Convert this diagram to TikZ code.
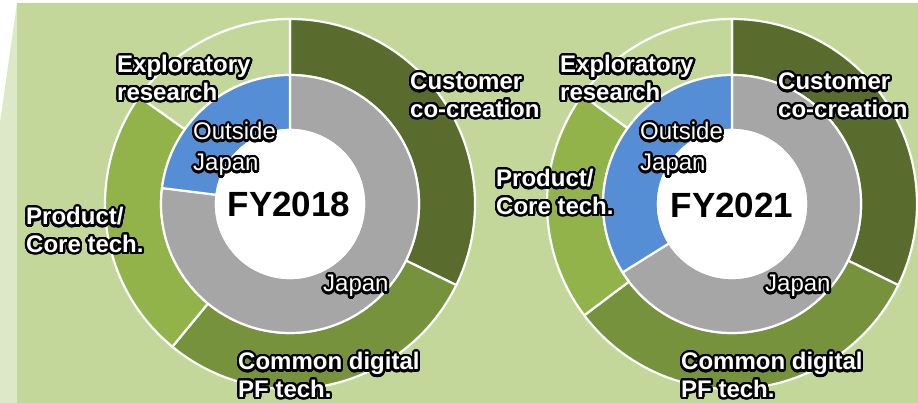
\documentclass[tikz,border=0pt]{standalone}
\usepackage{fontspec}
\setmainfont{Liberation Sans}
\usepackage[copies]{contour}
\contourlength{2.2pt}
\contournumber{32}
\definecolor{bgmain}{HTML}{C4D79B}
\definecolor{bgstrip}{HTML}{DDE8C8}
\definecolor{custgreen}{HTML}{5A6B2E}
\definecolor{commgreen}{HTML}{77923C}
\definecolor{prodgreen}{HTML}{91B34A}
\definecolor{japgray}{HTML}{A6A6A6}
\definecolor{outblue}{HTML}{558ED5}
\newcommand{\glow}[1]{\contour{black}{#1}}
\begin{document}
\begin{tikzpicture}[x=1pt, y=1pt,
  seg/.style={draw=white, line width=2.2pt, line join=round},
  lbl/.style={anchor=base west, inner sep=0pt, align=left, text=white, font=\fontsize{24}{27.5}\selectfont\bfseries},
  sublbl/.style={anchor=base west, inner sep=0pt, align=left, text=white, font=\fontsize{24}{31}\selectfont},
  yearlbl/.style={anchor=base, inner sep=0pt, font=\fontsize{35}{40}\selectfont\bfseries}]
\useasboundingbox (0,0) rectangle (918,403);
% background
\fill[white] (0,0) rectangle (918,403);
\fill[bgstrip] (0,0) -- (0,280) -- (17,400) -- (17,0) -- cycle;
\fill[bgmain] (17,0) rectangle (918,400);
% FY2018
\filldraw[seg, fill=custgreen, shift={(290,199)}] (90:129) -- (90:185) arc[start angle=90, end angle=-26, radius=185] -- (-26:129) arc[start angle=-26, end angle=90, radius=129] -- cycle;
\filldraw[seg, fill=commgreen, shift={(290,199)}] (-26:129) -- (-26:185) arc[start angle=-26, end angle=-129.5, radius=185] -- (-129.5:129) arc[start angle=-129.5, end angle=-26, radius=129] -- cycle;
\filldraw[seg, fill=prodgreen, shift={(290,199)}] (-129.5:129) -- (-129.5:185) arc[start angle=-129.5, end angle=-215.4, radius=185] -- (-215.4:129) arc[start angle=-215.4, end angle=-129.5, radius=129] -- cycle;
\filldraw[seg, fill=bgmain, shift={(290,199)}] (-215.4:129) -- (-215.4:185) arc[start angle=-215.4, end angle=-270, radius=185] -- (-270:129) arc[start angle=-270, end angle=-215.4, radius=129] -- cycle;
\filldraw[seg, fill=japgray, shift={(290,199)}] (90:74) -- (90:129) arc[start angle=90, end angle=-187.1, radius=129] -- (-187.1:74) arc[start angle=-187.1, end angle=90, radius=74] -- cycle;
\filldraw[seg, fill=outblue, shift={(290,199)}] (-187.1:74) -- (-187.1:129) arc[start angle=-187.1, end angle=-270, radius=129] -- (-270:74) arc[start angle=-270, end angle=-187.1, radius=74] -- cycle;
\filldraw[seg, fill=white] (290,199) circle[radius=74];
% FY2021
\filldraw[seg, fill=custgreen, shift={(732,199)}] (90:129) -- (90:185) arc[start angle=90, end angle=-26, radius=185] -- (-26:129) arc[start angle=-26, end angle=90, radius=129] -- cycle;
\filldraw[seg, fill=commgreen, shift={(732,199)}] (-26:129) -- (-26:185) arc[start angle=-26, end angle=-143, radius=185] -- (-143:129) arc[start angle=-143, end angle=-26, radius=129] -- cycle;
\filldraw[seg, fill=prodgreen, shift={(732,199)}] (-143:129) -- (-143:185) arc[start angle=-143, end angle=-216, radius=185] -- (-216:129) arc[start angle=-216, end angle=-143, radius=129] -- cycle;
\filldraw[seg, fill=bgmain, shift={(732,199)}] (-216:129) -- (-216:185) arc[start angle=-216, end angle=-270, radius=185] -- (-270:129) arc[start angle=-270, end angle=-216, radius=129] -- cycle;
\filldraw[seg, fill=japgray, shift={(732,199)}] (90:74) -- (90:129) arc[start angle=90, end angle=-148, radius=129] -- (-148:74) arc[start angle=-148, end angle=90, radius=74] -- cycle;
\filldraw[seg, fill=outblue, shift={(732,199)}] (-148:74) -- (-148:129) arc[start angle=-148, end angle=-270, radius=129] -- (-270:74) arc[start angle=-270, end angle=-148, radius=74] -- cycle;
\filldraw[seg, fill=white] (732,199) circle[radius=74];
% labels (base = last line)
\node[yearlbl] (fyA) at (289,186) {FY2018};
\node[lbl] (exploreA) at (117,302.5) {\glow{Exploratory}\\\glow{research}};
\node[lbl] (custA) at (410,285.5) {\glow{Customer}\\\glow{co-creation}};
\node[lbl] (prodA) at (26,150.5) {\glow{Product/}\\\glow{Core tech.}};
\node[lbl] (commA) at (238,5.5) {\glow{Common digital}\\\glow{PF tech.}};
\node[sublbl] (outsA) at (193,232) {\glow{Outside}\\\glow{Japan}};
\node[sublbl] (japA) at (323,111) {\glow{Japan}};
\node[yearlbl] (fyB) at (732,185) {FY2021};
\node[lbl] (exploreB) at (560,302.5) {\glow{Exploratory}\\\glow{research}};
\node[lbl] (custB) at (778,285.5) {\glow{Customer}\\\glow{co-creation}};
\node[lbl] (prodB) at (496,188.5) {\glow{Product/}\\\glow{Core tech.}};
\node[lbl] (commB) at (681,5.5) {\glow{Common digital}\\\glow{PF tech.}};
\node[sublbl] (outsB) at (640,232) {\glow{Outside}\\\glow{Japan}};
\node[sublbl] (japB) at (765,111) {\glow{Japan}};
\end{tikzpicture}
\end{document}
